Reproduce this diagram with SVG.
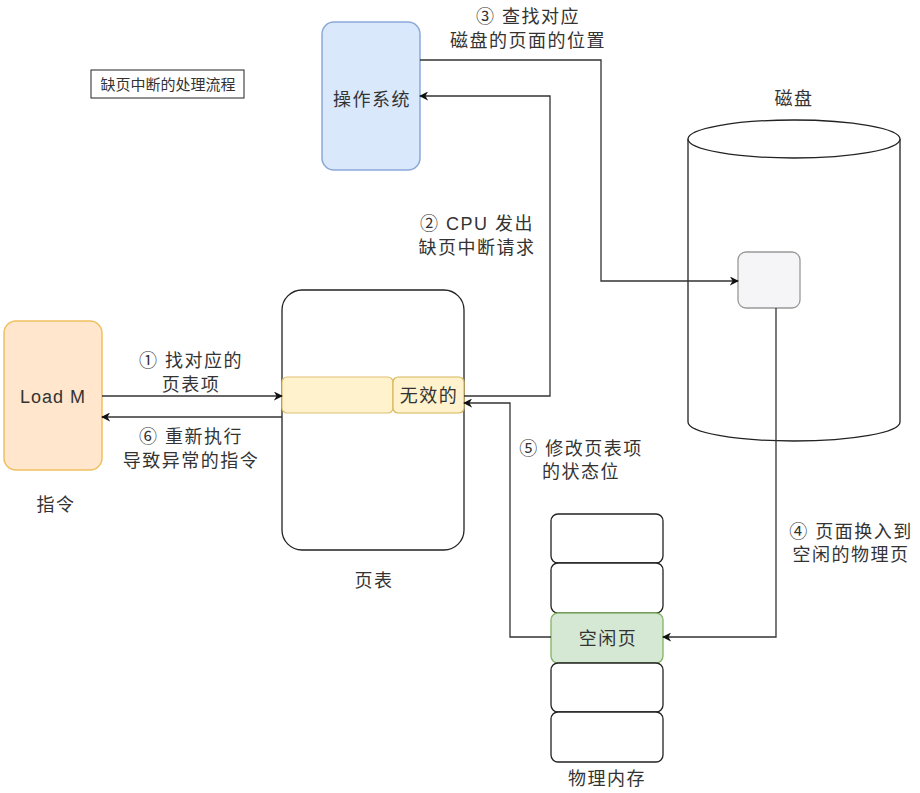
<svg xmlns="http://www.w3.org/2000/svg" width="920" height="793" viewBox="0 0 920 793">
  <style>
    text { font-family: "Liberation Sans", "Noto Sans CJK SC", sans-serif; fill: #333; text-anchor: middle; }
    .lbl { font-size: 18px; letter-spacing: 1.5px; }
    .line { fill: none; stroke: #333; stroke-width: 1.3; }
    .cell { fill: #fff; stroke: #222; stroke-width: 1.3; }
  </style>
  <defs>
    <marker id="arrow" viewBox="0 0 10 10" refX="9" refY="5" markerWidth="9" markerHeight="9" orient="auto" markerUnits="userSpaceOnUse">
      <path d="M0,0 L10,5 L0,10 L3,5 Z" fill="#111"/>
    </marker>
  </defs>
  <rect width="920" height="793" fill="#fff"/>

  <g id="title">
    <rect x="91" y="70" width="153" height="28" fill="#fff" stroke="#222" stroke-width="1"/>
    <text x="168" y="89.5" font-size="15">缺页中断的处理流程</text>
  </g>

  <g id="instruction">
    <rect x="4" y="321" width="98" height="149" rx="12" fill="#ffe6cc" stroke="#f0c060" stroke-width="1.5"/>
    <text x="53" y="403" font-size="18" letter-spacing="1">Load M</text>
    <text x="56" y="511" class="lbl">指令</text>
  </g>

  <g id="page-table">
    <rect x="282" y="290" width="182" height="260" rx="20" fill="#fff" stroke="#222" stroke-width="1.3"/>
    <rect x="282" y="377" width="111" height="36" rx="5" fill="#fff2cc" stroke="#e0c070" stroke-width="1.2"/>
    <rect x="393" y="377" width="71" height="36" rx="5" fill="#fff2cc" stroke="#d6b656" stroke-width="1.2"/>
    <text x="429" y="402" class="lbl">无效的</text>
    <text x="374" y="587" class="lbl">页表</text>
  </g>

  <g id="os">
    <rect x="322" y="22" width="98" height="148" rx="12" fill="#dae8fc" stroke="#8aa8d8" stroke-width="1.5"/>
    <text x="372" y="106" class="lbl">操作系统</text>
  </g>

  <g id="disk">
    <path d="M688,139 L688,422 A106,19 0 0 0 900,422 L900,139" fill="#fff" stroke="#222" stroke-width="1.3"/>
    <ellipse cx="794" cy="139" rx="106" ry="19" fill="#fff" stroke="#222" stroke-width="1.3"/>
    <rect x="738" y="252" width="62" height="56" rx="8" fill="#f5f5f7" stroke="#999" stroke-width="1.3"/>
    <text x="794" y="105" class="lbl">磁盘</text>
  </g>

  <g id="memory">
    <rect x="551" y="514" width="112" height="49" rx="7" class="cell"/>
    <rect x="551" y="563" width="112" height="50" rx="7" class="cell"/>
    <rect x="551" y="613" width="112" height="50" rx="7" fill="#d5e8d4" stroke="#82b366" stroke-width="1.3"/>
    <text x="608" y="645" class="lbl">空闲页</text>
    <rect x="551" y="663" width="112" height="49" rx="7" class="cell"/>
    <rect x="551" y="712" width="112" height="50" rx="7" class="cell"/>
    <text x="607" y="785" class="lbl">物理内存</text>
  </g>

  <g id="connectors">
    <path class="line" d="M102,396 L282,396" marker-end="url(#arrow)"/>
    <path class="line" d="M282,417 L102,417" marker-end="url(#arrow)"/>
    <path class="line" d="M464,396 L550,396 L550,96 L420,96" marker-end="url(#arrow)"/>
    <path class="line" d="M420,60 L601,60 L601,281 L738,281" marker-end="url(#arrow)"/>
    <path class="line" d="M776,308 L776,637 L663,637" marker-end="url(#arrow)"/>
    <path class="line" d="M551,637 L510,637 L510,403 L464,403" marker-end="url(#arrow)"/>
  </g>

  <g id="labels">
    <text x="191" y="367" class="lbl">① 找对应的</text>
    <text x="191" y="391" class="lbl">页表项</text>
    <text x="191" y="443" class="lbl">⑥ 重新执行</text>
    <text x="191" y="467" class="lbl">导致异常的指令</text>
    <text x="477" y="230" class="lbl">② CPU 发出</text>
    <text x="477" y="254" class="lbl">缺页中断请求</text>
    <text x="528" y="23" class="lbl">③ 查找对应</text>
    <text x="528" y="47" class="lbl">磁盘的页面的位置</text>
    <text x="851" y="538" class="lbl">④ 页面换入到</text>
    <text x="851" y="561" class="lbl">空闲的物理页</text>
    <text x="581" y="455" class="lbl">⑤ 修改页表项</text>
    <text x="581" y="478" class="lbl">的状态位</text>
  </g>
</svg>
